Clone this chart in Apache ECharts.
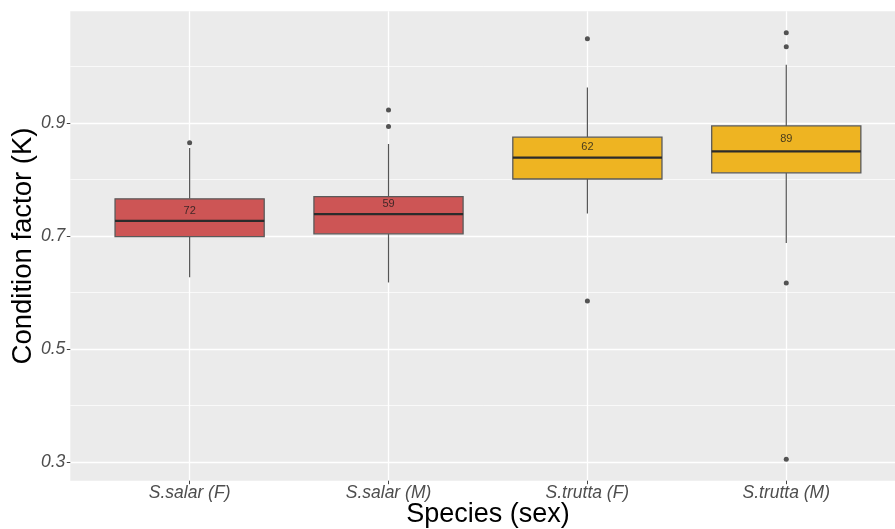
<!DOCTYPE html>
<html>
<head>
<meta charset="utf-8">
<script src="https://cdn.jsdelivr.net/npm/echarts@6/dist/echarts.min.js"></script>
<style>
html,body{margin:0;padding:0;background:#fff;}
#chart{width:895px;height:529px;}
</style>
</head>
<body>
<div id="chart"></div>
<script>
// ---- data ----
const categories = ['S.salar (F)', 'S.salar (M)', 'S.trutta (F)', 'S.trutta (M)'];
const whiskerLow  = [0.627, 0.618, 0.740, 0.688];
const q1          = [0.699, 0.704, 0.801, 0.812];
const median      = [0.727, 0.739, 0.839, 0.850];
const q3          = [0.766, 0.770, 0.875, 0.895];
const whiskerHigh = [0.856, 0.863, 0.963, 1.003];
const outliers    = [[0.865], [0.923, 0.894], [1.049, 0.585], [1.060, 1.035, 0.617, 0.305]];
const counts      = [72, 59, 62, 89];
const countLabelY = [0.744, 0.757, 0.858, 0.871];
const yTicks      = [0.3, 0.5, 0.7, 0.9];
const yMinorTicks = [0.4, 0.6, 0.8, 1.0];
const fillColors  = ['#CD5555', '#CD5555', '#EEB422', '#EEB422'];

// ---- derived ----
const xPos = categories.map((c, i) => i + 1);
const boxData = categories.map((c, i) => [xPos[i], whiskerLow[i], q1[i], median[i], q3[i], whiskerHigh[i]]);
const outlierData = [];
outliers.forEach((arr, i) => arr.forEach(v => outlierData.push([xPos[i], v])));
const labelData = categories.map((c, i) => [xPos[i], countLabelY[i], counts[i]]);

const allVals = whiskerLow.concat(whiskerHigh).concat([].concat(...outliers));
const dMin = Math.min(...allVals), dMax = Math.max(...allVals);
const pad = (dMax - dMin) * 0.05;
const yMin = dMin - pad, yMax = dMax + pad;

const FONT = '"Liberation Sans", Arial, sans-serif';
const chart = echarts.init(document.getElementById('chart'), null, {renderer: 'canvas'});

const option = {
  animation: false,
  backgroundColor: '#ffffff',
  grid: {
    left: 70.3, top: 11.3, bottom: 48.3, right: -10.6,
    show: true, backgroundColor: '#EBEBEB', borderWidth: 0,
    containLabel: false, outerBoundsMode: 'none'
  },
  xAxis: {
    type: 'value', min: 0.4, max: 4.6,
    name: 'Species (sex)', nameLocation: 'middle', nameGap: 20, nameMoveOverlap: false,
    nameTextStyle: {fontFamily: FONT, fontSize: 27, color: '#000'},
    axisLine: {show: false},
    axisTick: {show: true, length: 3.5, customValues: xPos, lineStyle: {color: '#444', width: 1}},
    axisLabel: {
      customValues: xPos, margin: 3.5,
      formatter: v => categories[Math.round(v) - 1] || '',
      fontFamily: FONT, fontSize: 17.5, fontStyle: 'italic', color: '#4D4D4D'
    },
    splitLine: {show: true, lineStyle: {color: '#ffffff', width: 1.3}},
    minorSplitLine: {show: false}
  },
  yAxis: [{
    type: 'value', min: yMin, max: yMax,
    name: 'Condition factor (K)', nameLocation: 'middle', nameGap: 33, nameMoveOverlap: false,
    nameTextStyle: {fontFamily: FONT, fontSize: 27.5, color: '#000'},
    axisLine: {show: false},
    axisTick: {show: true, length: 3.5, customValues: yTicks, lineStyle: {color: '#444', width: 1}},
    axisLabel: {
      customValues: yTicks, margin: 5,
      formatter: v => v.toFixed(1),
      fontFamily: FONT, fontSize: 17.5, fontStyle: 'italic', color: '#4D4D4D'
    },
    splitLine: {show: true, lineStyle: {color: '#ffffff', width: 1.3}}
  }, {
    type: 'value', min: yMin, max: yMax, position: 'left',
    axisLine: {show: false},
    axisTick: {show: false, customValues: yMinorTicks},
    axisLabel: {show: false, customValues: yMinorTicks},
    splitLine: {show: true, lineStyle: {color: '#ffffff', width: 0.7}}
  }],
  series: [{
    type: 'custom',
    z: 3,
    data: boxData,
    encode: {x: 0, y: [1, 2, 3, 4, 5]},
    renderItem: function (params, api) {
      const x = api.value(0);
      const lo = api.coord([x, api.value(1)]);
      const b1 = api.coord([x, api.value(2)]);
      const md = api.coord([x, api.value(3)]);
      const b3 = api.coord([x, api.value(4)]);
      const hi = api.coord([x, api.value(5)]);
      const half = api.size([0.75, 0])[0] / 2;
      const fill = fillColors[params.dataIndex];
      return {
        type: 'group',
        children: [
          {type: 'line', shape: {x1: hi[0], y1: hi[1], x2: b3[0], y2: b3[1]}, style: {stroke: '#555', lineWidth: 1.2}},
          {type: 'line', shape: {x1: b1[0], y1: b1[1], x2: lo[0], y2: lo[1]}, style: {stroke: '#555', lineWidth: 1.2}},
          {type: 'rect', shape: {x: b3[0] - half, y: b3[1], width: half * 2, height: b1[1] - b3[1]},
           style: {fill: fill, stroke: '#5a5a5a', lineWidth: 1.3}},
          {type: 'line', shape: {x1: md[0] - half, y1: md[1], x2: md[0] + half, y2: md[1]}, style: {stroke: '#2b2b2b', lineWidth: 2.3}}
        ]
      };
    }
  }, {
    type: 'scatter',
    z: 4,
    data: outlierData,
    symbol: 'circle',
    symbolSize: 5,
    itemStyle: {color: '#2b2b2b'}
  }, {
    type: 'scatter',
    z: 5,
    data: labelData,
    symbolSize: 0,
    encode: {x: 0, y: 1},
    label: {
      show: true, position: 'inside',
      formatter: p => String(p.value[2]),
      fontFamily: FONT, fontSize: 11, color: '#1a1a1a'
    }
  }]
};
chart.setOption(option);
</script>
</body>
</html>
